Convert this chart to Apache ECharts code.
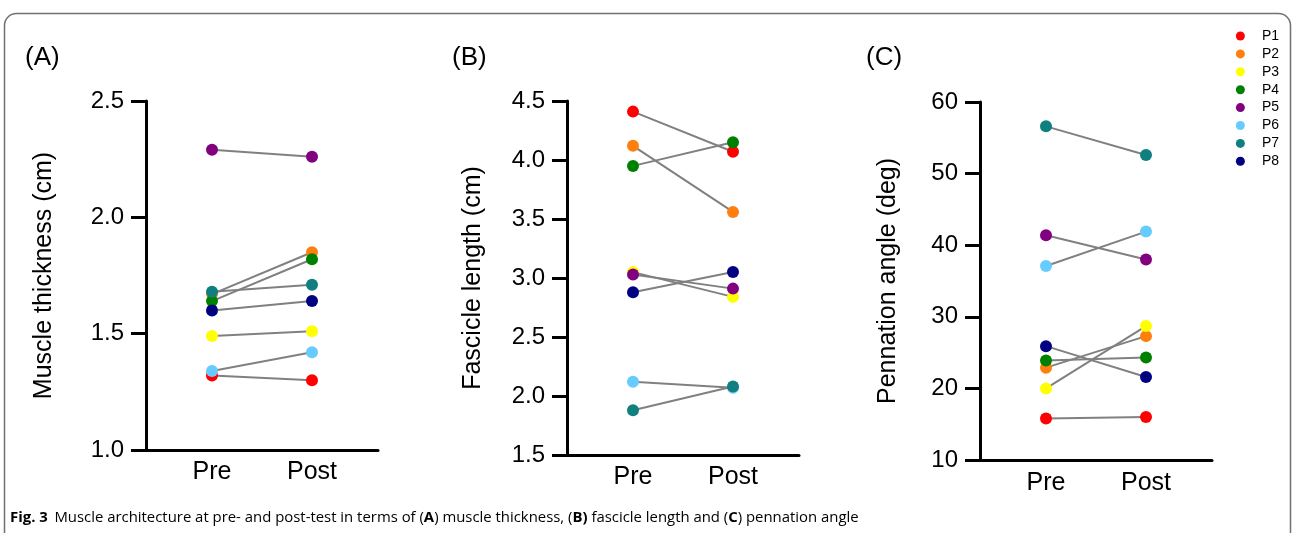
<!DOCTYPE html>
<html>
<head>
<meta charset="utf-8">
<script src="https://cdn.jsdelivr.net/npm/echarts@6/dist/echarts.min.js"></script>
<style>
html,body{margin:0;padding:0;background:#fff;}
#chart{width:1293px;height:533px;}
</style>
</head>
<body>
<div id="chart"></div>
<script>
// ---- data ----
var categories = ['Pre', 'Post'];
var participants = ['P1', 'P2', 'P3', 'P4', 'P5', 'P6', 'P7', 'P8'];
var colors = ['#ff0000', '#ff7f0e', '#ffff00', '#008000', '#800080', '#66ccff', '#0f7f7f', '#000080'];

var thicknessPre  = [1.32, 1.67, 1.49, 1.64, 2.29, 1.34, 1.68, 1.60];
var thicknessPost = [1.30, 1.85, 1.51, 1.82, 2.26, 1.42, 1.71, 1.64];

var fasciclePre  = [4.41, 4.12, 3.05, 3.95, 3.03, 2.12, 1.88, 2.88];
var fasciclePost = [4.07, 3.56, 2.84, 4.15, 2.91, 2.07, 2.08, 3.05];

var pennationPre  = [15.8, 22.9, 20.0, 23.9, 41.4, 37.1, 56.6, 25.9];
var pennationPost = [16.0, 27.3, 28.7, 24.3, 38.0, 41.9, 52.6, 21.6];

var panelLabels = ['(A)', '(B)', '(C)'];
var axisNames = ['Muscle thickness (cm)', 'Fascicle length (cm)', 'Pennation angle (deg)'];
var yTicksA = [1.0, 1.5, 2.0, 2.5];
var yTicksB = [1.5, 2.0, 2.5, 3.0, 3.5, 4.0, 4.5];
var yTicksC = [10, 20, 30, 40, 50, 60];

// ---- chart ----
var chart = echarts.init(document.getElementById('chart'), null, {renderer: 'canvas'});
var FONT = 'Liberation Sans';

var panels = [
  {pre: thicknessPre, post: thicknessPost, ticks: yTicksA, grid: {left: 146, top: 101, width: 232, height: 349}, gap: 89, dec: 1, xm: 10},
  {pre: fasciclePre, post: fasciclePost, ticks: yTicksB, grid: {left: 567, top: 101, width: 232, height: 354}, gap: 81, dec: 1, xm: 10},
  {pre: pennationPre, post: pennationPost, ticks: yTicksC, grid: {left: 980, top: 102, width: 232, height: 358}, gap: 79, dec: 0, xm: 11}
];

var grids = [], xAxes = [], yAxes = [], series = [];
panels.forEach(function (p, i) {
  grids.push(p.grid);
  xAxes.push({
    type: 'value', gridIndex: i, min: 0.34, max: 2.66,
    axisLine: {show: true, lineStyle: {color: '#000', width: 3}},
    axisTick: {show: false},
    splitLine: {show: false},
    axisLabel: {
      customValues: [1, 2],
      formatter: function (v) { return categories[Math.round(v) - 1] || ''; },
      color: '#000', fontSize: 25, fontFamily: FONT, margin: p.xm
    }
  });
  var t = p.ticks;
  yAxes.push({
    type: 'value', gridIndex: i, min: t[0], max: t[t.length - 1], interval: t[1] - t[0],
    name: axisNames[i], nameLocation: 'middle', nameGap: p.gap,
    nameTextStyle: {color: '#000', fontSize: 25, fontFamily: FONT},
    axisLine: {show: true, lineStyle: {color: '#000', width: 3}},
    axisTick: {show: true, length: 15, lineStyle: {color: '#000', width: 3}},
    splitLine: {show: false},
    axisLabel: {
      color: '#000', fontSize: 24, fontFamily: FONT, margin: 22,
      formatter: function (v) { return v.toFixed(p.dec); }
    }
  });
  participants.forEach(function (name, k) {
    series.push({
      name: name, type: 'line', xAxisIndex: i, yAxisIndex: i,
      data: [[1, p.pre[k]], [2, p.post[k]]],
      symbol: 'circle', symbolSize: 12,
      itemStyle: {color: colors[k], opacity: 1},
      lineStyle: {color: '#808080', width: 2},
      emphasis: {disabled: true},
      animation: false, z: 2 + k
    });
  });
});

var option = {
  animation: false,
  backgroundColor: '#fff',
  grid: grids,
  xAxis: xAxes,
  yAxis: yAxes,
  series: series,
  legend: {
    data: participants.map(function (n, k) { return {name: n, itemStyle: {color: colors[k]}}; }),
    orient: 'vertical', right: 9, top: 24,
    itemWidth: 9, itemHeight: 9, itemGap: 3.9, icon: 'circle',
    textStyle: {fontSize: 14, lineHeight: 13, fontFamily: FONT, color: '#000', padding: [0, 0, 0, 12]},
    selectedMode: false
  },
  graphic: [
    {type: 'rect', shape: {x: 4.5, y: 13.5, width: 1286, height: 700, r: 12},
     style: {fill: 'none', stroke: '#707070', lineWidth: 1.5}, silent: true, z: 0},
    {type: 'text', left: 25, top: 45, style: {text: panelLabels[0], font: '26px "Liberation Sans"', fill: '#000'}},
    {type: 'text', left: 452, top: 45, style: {text: panelLabels[1], font: '26px "Liberation Sans"', fill: '#000'}},
    {type: 'text', left: 866, top: 45, style: {text: panelLabels[2], font: '26px "Liberation Sans"', fill: '#000'}},
    {type: 'text', left: 10, top: 510, style: {
      text: '{b|Fig. 3}  {n|Muscle architecture at pre- and post-test in terms of (}{b|A}{n|) muscle thickness, (}{b|B)}{n| fascicle length and (}{b|C}{n|) pennation angle}',
      rich: {
        b: {fontFamily: 'Open Sans', fontWeight: 'bold', fontSize: 14.9, fill: '#000'},
        n: {fontFamily: 'Open Sans', fontSize: 14.9, fill: '#000'}
      }
    }}
  ]
};
chart.setOption(option);
</script>
</body>
</html>
